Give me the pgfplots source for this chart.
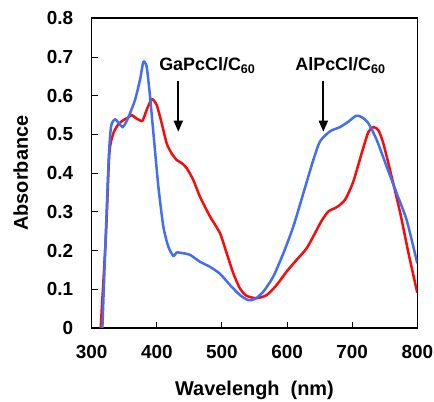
\documentclass[border=0pt]{standalone}
\usepackage{fontspec}
\setmainfont{Liberation Sans}
\usepackage{pgfplots}
\pgfplotsset{compat=1.18}
\usetikzlibrary{arrows.meta}
\definecolor{myblue}{RGB}{66,110,240}
\definecolor{myred}{RGB}{250,10,10}
\begin{document}
\begin{tikzpicture}
\begin{axis}[
  scale only axis,
  width=325.6bp, height=309.7bp,
  xmin=300, xmax=800, ymin=0, ymax=0.8,
  xtick={300,400,...,800},
  ytick={0,0.1,...,0.8},
  yticklabel style={/pgf/number format/fixed,/pgf/number format/precision=1},
  /pgf/number format/assume math mode=true,
  tick label style={font=\fontsize{19}{21}\selectfont\bfseries},
  yticklabel style={xshift=-15bp},
  xticklabel style={yshift=-14bp},
  xlabel={Wavelengh\ \ (nm)},
  ylabel={Absorbance},
  label style={font=\fontsize{20}{22}\selectfont\bfseries},
  xlabel style={yshift=-15bp},
  ylabel style={yshift=12bp},
  tick align=inside,
  xtick pos=bottom, ytick pos=left,
  major tick length=6bp,
  every tick/.style={black, line width=1pt},
  axis line style={line width=1.6pt},
  scaled y ticks=false,
]
\addplot[myred, line width=2.5pt, smooth, tension=0.4] coordinates {
(313.8,0) (322,0.245) (327.1,0.451) (333.3,0.503) (340.9,0.526) (348.6,0.537)
(356.3,0.544) (361.4,0.550) (366.5,0.544) (374.2,0.536) (378.3,0.536) (384.4,0.563)
(392.1,0.591) (399.8,0.576) (407.5,0.529) (415.1,0.477) (422.8,0.451) (430.5,0.434)
(438.2,0.426) (445.9,0.413) (456.1,0.382) (466.3,0.339) (481.7,0.288) (497,0.245)
(507.3,0.193) (517.5,0.141) (527.7,0.102) (538,0.083) (553.3,0.077) (568.7,0.085)
(584,0.111) (599.4,0.146) (614.7,0.176) (630.1,0.206) (642.9,0.245) (653.1,0.277)
(663.4,0.301) (676.2,0.312) (688.9,0.331) (701.7,0.378) (714.5,0.451) (724.8,0.506)
(732.5,0.519) (740.2,0.511) (747.8,0.477) (760.6,0.391) (773.9,0.296) (786.5,0.193)
(800,0.091)
};
\addplot[myblue, line width=2.5pt, smooth, tension=0.4] coordinates {
(316.4,0) (325.6,0.417) (329.7,0.520) (335.8,0.539) (342.5,0.527) (347.6,0.519)
(352.7,0.531) (358.9,0.555) (366.5,0.589) (374.2,0.641) (379.3,0.687) (384.4,0.675)
(389.6,0.598) (395.7,0.486) (402.4,0.365) (410,0.262) (417.7,0.210) (425.4,0.186)
(430.5,0.195) (440.7,0.193) (451,0.189) (466.3,0.171) (481.7,0.158) (497,0.140)
(512.4,0.111) (527.7,0.085) (540.5,0.072) (550.8,0.075) (563.6,0.094) (578.9,0.133)
(594.3,0.193) (609.6,0.262) (625,0.348) (640.3,0.434) (650.6,0.482) (665.9,0.508)
(681.3,0.519) (694.1,0.533) (705.8,0.548) (714.5,0.545) (724.8,0.529) (737.6,0.486)
(752.9,0.417) (768.3,0.348) (783.6,0.279) (800,0.167)
};
\draw[-{Triangle[length=11bp,width=9bp]}, line width=1.8pt] (axis cs:433,0.637) -- (axis cs:433,0.507);
\draw[-{Triangle[length=11bp,width=9bp]}, line width=1.8pt] (axis cs:655.7,0.637) -- (axis cs:655.7,0.507);
\node[font=\fontsize{18}{20}\selectfont\bfseries] at (axis cs:477.6,0.677) {GaPcCl/C\textsubscript{60}};
\node[font=\fontsize{18}{20}\selectfont\bfseries] at (axis cs:682,0.677) {AlPcCl/C\textsubscript{60}};
\end{axis}
\pgfresetboundingbox
\useasboundingbox ([shift={(-91.7bp,-74bp)}]current axis.south west) rectangle ([shift={(16.7bp,18.3bp)}]current axis.north east);
\end{tikzpicture}
\end{document}
